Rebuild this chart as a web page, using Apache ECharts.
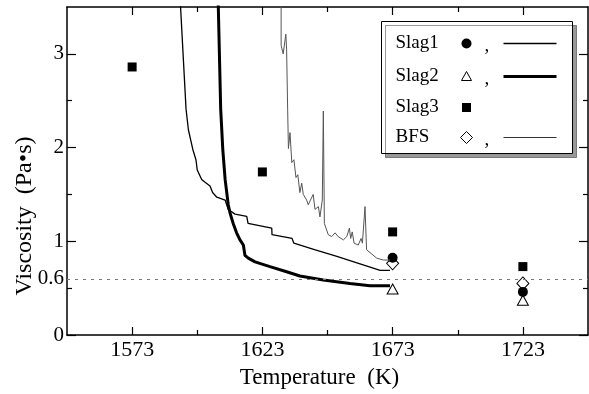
<!DOCTYPE html>
<html><head><meta charset="utf-8">
<script src="https://cdn.jsdelivr.net/npm/echarts@6/dist/echarts.min.js"></script>
<style>html,body{margin:0;padding:0;background:#fff}#c{width:589px;height:394px}</style>
</head><body><div id="c"></div>
<script>
// ---- data ----
const xTicks = [1573, 1623, 1673, 1723];
const xMinorTicks = [1598, 1648, 1698];
const yLabels = [0, 0.6, 1, 2, 3];
const yTicks = [0, 1, 2, 3];
const yMinorTicks = [0.5, 1.5, 2.5];
const refLevel = 0.6;

const pointTemps = [1673, 1723];
const slag1Points = [0.825, 0.46];
const slag2Points = [0.49, 0.37];
const bfsPoints = [0.765, 0.55];
const slag3Temps = [1573, 1623, 1673, 1723];
const slag3Points = [2.86, 1.74, 1.10, 0.73];

const slag1CurveT = [1591.4,1593.7,1594.6,1596.3,1597.5,1598.0,1599.7,1601.0,1602.9,1603.9,1605.5,1608.7,1609.9,1612.5,1617.0,1617.5,1626.6,1626.7,1634.4,1635.1,1643.0,1651.6,1668.2,1672.0];
const slag1CurveV = [3.6,2.41,2.19,1.98,1.87,1.76,1.66,1.63,1.59,1.52,1.47,1.44,1.34,1.29,1.265,1.19,1.14,1.07,1.03,0.98,0.91,0.84,0.69,0.69];

const slag2CurveT = [1606.0,1607.0,1607.8,1608.7,1609.9,1610.6,1611.8,1613.1,1614.4,1615.7,1616.3,1617.6,1620.2,1625.9,1632.3,1637.4,1646.4,1656.6,1664.3,1672.0];
const slag2CurveV = [3.6,2.41,1.98,1.66,1.39,1.30,1.19,1.09,1.015,0.96,0.85,0.82,0.78,0.73,0.675,0.63,0.586,0.55,0.525,0.525];

const bfsCurveT = [1630.2,1630.2,1631.0,1632.0,1632.3,1632.7,1633.0,1633.6,1634.3,1635.1,1635.9,1636.6,1637.4,1638.1,1638.7,1640.0,1640.6,1642.5,1643.2,1644.5,1645.1,1646.0,1646.4,1646.8,1648.3,1649.6,1650.9,1652.1,1654.1,1655.4,1656.4,1656.9,1657.5,1658.2,1659.8,1660.9,1661.4,1662.4,1663.0,1666.9,1669.4,1672.0];
const bfsCurveV = [3.6,3.09,3.00,3.21,3.05,2.41,1.99,2.16,1.84,1.87,1.68,1.71,1.52,1.62,1.50,1.44,1.39,1.50,1.34,1.37,1.26,1.44,2.39,1.19,1.07,1.05,1.09,1.05,1.015,1.05,1.14,1.03,1.10,0.98,0.96,1.03,0.98,1.37,0.91,0.82,0.80,0.80];

const legendNames = ['Slag1', 'Slag2', 'Slag3', 'BFS'];

// ---- build ----
const zip = (a, b) => a.map((v, i) => [v, b[i]]);
const FONT = '"Liberation Serif", "DejaVu Serif", serif';
const X_MIN = 1548, X_MAX = 1748, Y_MIN = 0, Y_MAX = 3.5;
const plain = v => String(v);

function xAx(pos, major, withLine) {
  return {
    type: 'value', position: pos, min: X_MIN, max: X_MAX,
    splitLine: { show: false },
    axisLine: { show: withLine, onZero: false, lineStyle: { color: '#000', width: 1.5 } },
    axisTick: { show: true, inside: true, length: major ? 8 : 5, customValues: major ? xTicks : xMinorTicks, lineStyle: { color: '#000', width: 1.2 } },
    axisLabel: { show: false }
  };
}
function yAx(pos, major, withLine) {
  return {
    type: 'value', position: pos, min: Y_MIN, max: Y_MAX,
    splitLine: { show: false },
    axisLine: { show: withLine, onZero: false, lineStyle: { color: '#000', width: 1.5 } },
    axisTick: { show: true, inside: true, length: major ? 9 : 5, customValues: major ? yTicks : yMinorTicks, lineStyle: { color: '#000', width: 1.2 } },
    axisLabel: { show: false }
  };
}

const xAxes = [xAx('bottom', true, true), xAx('bottom', false, false), xAx('top', true, true), xAx('top', false, false)];
xAxes[0].axisLabel = { show: true, customValues: xTicks, formatter: plain, color: '#000', fontFamily: FONT, fontSize: 22, margin: 4 };
xAxes[0].name = 'Temperature  (K)';
xAxes[0].nameLocation = 'middle';
xAxes[0].nameGap = 31;
xAxes[0].nameTextStyle = { color: '#000', fontFamily: FONT, fontSize: 23, padding: [0, 16, 0, 0] };

const yAxes = [yAx('left', true, true), yAx('left', false, false), yAx('right', true, true), yAx('right', false, false)];
yAxes[0].axisLabel = { show: true, customValues: yLabels, formatter: plain, color: '#000', fontFamily: FONT, fontSize: 21, margin: 3 };
yAxes[0].name = 'Viscosity  (Pa\u2022s)';
yAxes[0].nameLocation = 'middle';
yAxes[0].nameGap = 30;
yAxes[0].nameMoveOverlap = false;
yAxes[0].nameTextStyle = { color: '#000', fontFamily: FONT, fontSize: 24, padding: [0, 90, 0, 0] };

const legendRowsY = [22, 55, 86, 116];
const lx = 85;
const legendChildren = [
  { type: 'rect', shape: { x: 0, y: 0, width: 191, height: 132 },
    style: { fill: '#fff', stroke: '#000', lineWidth: 1, shadowColor: 'rgba(0,0,0,0.4)', shadowOffsetX: 4, shadowOffsetY: 4, shadowBlur: 0 } }
];
legendNames.forEach((n, i) => {
  legendChildren.push({ type: 'text', x: 14, y: legendRowsY[i], style: { text: n, fill: '#000', font: '19px ' + FONT, verticalAlign: 'middle', align: 'left' } });
});
legendChildren.push({ type: 'circle', shape: { cx: lx, cy: legendRowsY[0], r: 5 }, style: { fill: '#000' } });
legendChildren.push({ type: 'polygon', shape: { points: [[lx, legendRowsY[1] - 5], [lx - 5, legendRowsY[1] + 4], [lx + 5, legendRowsY[1] + 4]] }, style: { fill: '#fff', stroke: '#000', lineWidth: 1 } });
legendChildren.push({ type: 'rect', shape: { x: lx - 4.5, y: legendRowsY[2] - 4.5, width: 9, height: 9 }, style: { fill: '#000' } });
legendChildren.push({ type: 'polygon', shape: { points: [[lx, legendRowsY[3] - 6], [lx + 6, legendRowsY[3]], [lx, legendRowsY[3] + 6], [lx - 6, legendRowsY[3]]] }, style: { fill: '#fff', stroke: '#000', lineWidth: 1 } });
[0, 1, 3].forEach(i => {
  legendChildren.push({ type: 'text', x: 103, y: legendRowsY[i] + 3, style: { text: ',', fill: '#000', font: '19px ' + FONT, verticalAlign: 'middle' } });
});
legendChildren.push({ type: 'line', shape: { x1: 122, y1: legendRowsY[0], x2: 175, y2: legendRowsY[0] }, style: { stroke: '#000', lineWidth: 1.3 } });
legendChildren.push({ type: 'line', shape: { x1: 122, y1: legendRowsY[1], x2: 175, y2: legendRowsY[1] }, style: { stroke: '#000', lineWidth: 3 } });
legendChildren.push({ type: 'line', shape: { x1: 122, y1: legendRowsY[3], x2: 175, y2: legendRowsY[3] }, style: { stroke: '#333', lineWidth: 1 } });

const option = {
  animation: false,
  backgroundColor: '#fff',
  grid: { left: 67, right: 1, top: 7, bottom: 59, containLabel: false, outerBoundsMode: 'none' },
  xAxis: xAxes,
  yAxis: yAxes,
  graphic: [{ type: 'group', left: 381, top: 21, z: 100, children: legendChildren }],
  series: [
    { type: 'line', name: 'ref', data: [], markLine: { silent: true, symbol: 'none', label: { show: false },
        lineStyle: { type: [3, 5], color: '#777', width: 1 }, data: [{ yAxis: refLevel }] } },
    { type: 'line', name: 'BFS line', data: zip(bfsCurveT, bfsCurveV), symbol: 'none', lineStyle: { color: '#555', width: 1 }, clip: true },
    { type: 'line', name: 'Slag1 line', data: zip(slag1CurveT, slag1CurveV), symbol: 'none', lineStyle: { color: '#000', width: 1.3 }, clip: true },
    { type: 'line', name: 'Slag2 line', data: zip(slag2CurveT, slag2CurveV), symbol: 'none', lineStyle: { color: '#000', width: 3 }, clip: true },
    { type: 'scatter', name: 'BFS', data: zip(pointTemps, bfsPoints), symbol: 'diamond', symbolSize: [12, 13], itemStyle: { color: '#fff', borderColor: '#000', borderWidth: 1, opacity: 1 } },
    { type: 'scatter', name: 'Slag2', data: zip(pointTemps, slag2Points), symbol: 'triangle', symbolSize: [11, 10], itemStyle: { color: '#fff', borderColor: '#000', borderWidth: 1, opacity: 1 } },
    { type: 'scatter', name: 'Slag1', data: zip(pointTemps, slag1Points), symbol: 'circle', symbolSize: 10, itemStyle: { color: '#000', opacity: 1 } },
    { type: 'scatter', name: 'Slag3', data: zip(slag3Temps, slag3Points), symbol: 'rect', symbolSize: 9, itemStyle: { color: '#000', opacity: 1 } }
  ]
};
const chart = echarts.init(document.getElementById('c'), null, { renderer: 'canvas' });
chart.setOption(option);
</script>
</body></html>
